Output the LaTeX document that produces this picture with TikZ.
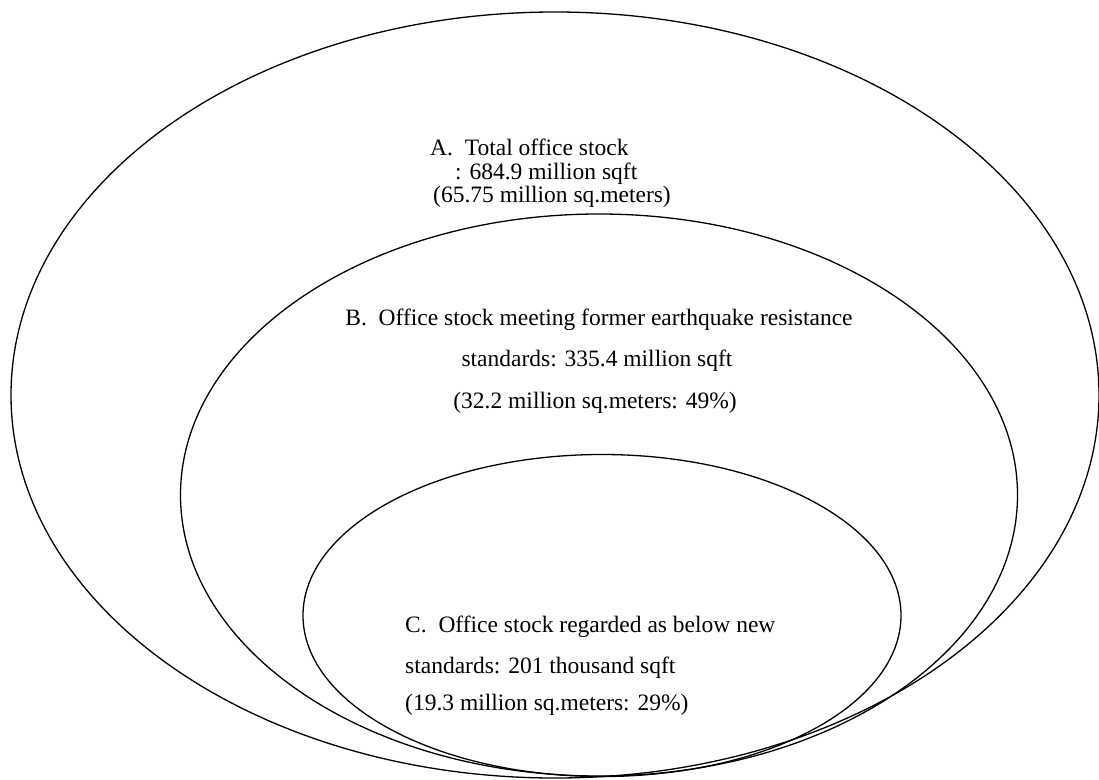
\documentclass[tikz,border=0pt]{standalone}
\usepackage{fontspec}
\setmainfont{Liberation Serif}
\usetikzlibrary{shapes.geometric}

\begin{document}
\begin{tikzpicture}[x=1pt, y=-1pt,
  ring/.style = {draw, ellipse, line width=1.3pt, inner sep=0pt},
  label/.style = {inner sep=0pt, anchor=base west, font=\fontsize{23.5}{23.5}\selectfont},
  mid/.style = {label, anchor=base}]
\useasboundingbox (0,0) rectangle (1099,779);

%rings
\node[ring, minimum width=1088pt, minimum height=766pt] (A) at (555,395) {};
\node[ring, minimum width=837pt, minimum height=562pt] (B) at (599,495) {};
\node[ring, minimum width=598pt, minimum height=322pt] (C) at (602,615.5) {};

%text A
\node[label] (a1) at (430,155) {A.\ \ Total office stock};
\node[label] (a2) at (455,179) {: 684.9 million sqft};
\node[label] (a3) at (433,202.5) {(65.75 million sq.meters)};

%text B
\node[mid] (b1) at (599,325) {B.\ \ Office stock meeting former earthquake resistance};
\node[mid] (b2) at (597,366) {standards: 335.4 million sqft};
\node[mid] (b3) at (595,408) {(32.2 million sq.meters: 49\%)};

%text C
\node[label] (c1) at (405,632) {C.\ \ Office stock regarded as below new};
\node[label] (c2) at (405,673) {standards: 201 thousand sqft};
\node[label] (c3) at (405,710) {(19.3 million sq.meters: 29\%)};
\end{tikzpicture}
\end{document}
